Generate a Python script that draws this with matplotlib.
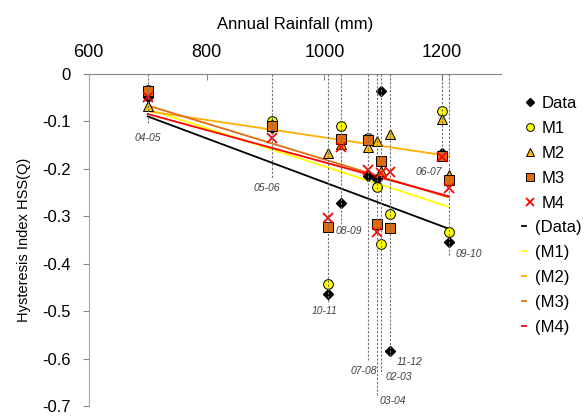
import numpy as np
import matplotlib.pyplot as plt
from matplotlib.ticker import FuncFormatter

plt.rcParams['font.family'] = ['Liberation Sans', 'DejaVu Sans']
plt.rcParams['axes.unicode_minus'] = False

# hydrological years and annual rainfall (mm)
years = ["04-05", "05-06", "10-11", "08-09", "07-08", "03-04", "02-03", "11-12", "06-07", "09-10"]
rainfall = [700, 911, 1007, 1028, 1074, 1089, 1096, 1112, 1199, 1211]

# hysteresis index HSS(Q): observed and four models
hss_data = [-0.050, -0.115, -0.465, -0.273, -0.216, -0.222, -0.037, -0.585, -0.168, -0.354]
hss_m1 = [-0.035, -0.100, -0.442, -0.111, -0.135, -0.238, -0.358, -0.295, -0.078, -0.333]
hss_m2 = [-0.067, -0.105, -0.166, -0.148, -0.155, -0.141, -0.204, -0.127, -0.095, -0.213]
hss_m3 = [-0.036, -0.110, -0.322, -0.138, -0.140, -0.316, -0.183, -0.324, -0.173, -0.224]
hss_m4 = [-0.048, -0.135, -0.304, -0.155, -0.203, -0.333, -0.210, -0.206, -0.175, -0.241]

# drop lines and year labels (layout only)
drop_end = [-0.105, -0.22, -0.485, -0.316, -0.604, -0.682, -0.632, -0.598, -0.173, -0.383]
label_x = [700, 902, 1001, 1041, 1067, 1116, 1127, 1144, 1177, 1245]
label_y = [-0.135, -0.24, -0.50, -0.332, -0.627, -0.69, -0.638, -0.608, -0.208, -0.379]

fig = plt.figure(figsize=(5.84, 4.19), dpi=100)
ax = fig.add_axes([0.152, 0.031, 0.706, 0.793])

x = np.array(rainfall)

# vertical dashed lines from 0 down to each year label
for xi, yend in zip(rainfall, drop_end):
    ax.plot([xi, xi], [0, yend], color='#707070', lw=0.8, ls=(0, (2, 1.5)), zorder=4)
for name, lx, ly in zip(years, label_x, label_y):
    ax.text(lx, ly, name, fontsize=7.5, style='italic', color='#404040',
            ha='center', va='center')

series = [
    ("Data", hss_data, dict(marker='D', ms=5, mfc='black', mec='black'), 'black'),
    ("M1", hss_m1, dict(marker='o', ms=7, mfc='#FFFF00', mec='black', mew=0.7), '#FFFF00'),
    ("M2", hss_m2, dict(marker='^', ms=7, mfc='#FFC000', mec='black', mew=0.7), '#FFB000'),
    ("M3", hss_m3, dict(marker='s', ms=7, mfc='#E36C09', mec='black', mew=0.7), '#E46C0A'),
    ("M4", hss_m4, dict(marker='x', ms=7, mec='#FF0000', mew=1.3), '#FF0000'),
]

marker_handles = []
line_handles = []
xfit = np.array([x.min(), x.max()])
for name, vals, style, lcol in series:
    h, = ax.plot(rainfall, vals, ls='none', label=name, zorder=3, **style)
    marker_handles.append(h)
for name, vals, style, lcol in series:
    k, b = np.polyfit(x, vals, 1)  # linear trend
    l, = ax.plot(xfit, k * xfit + b, color=lcol, lw=1.3, label="(" + name + ")", zorder=2)
    line_handles.append(l)

ax.set_xlim(600, 1300)
ax.set_ylim(-0.7, 0)
ax.set_xticks([600, 800, 1000, 1200])
ax.set_yticks(np.arange(-0.7, 0.01, 0.1))
ax.yaxis.set_major_formatter(FuncFormatter(lambda v, p: f"{v:.1f}" if abs(v) > 1e-9 else "0"))
ax.xaxis.tick_top()
ax.xaxis.set_label_position('top')
ax.tick_params(axis='x', direction='in', length=4, color='#868686', labelsize=13, pad=9)
ax.tick_params(axis='y', direction='out', length=4, color='#868686', labelsize=12, pad=9)
ax.set_xlabel("Annual Rainfall (mm)", fontsize=12, labelpad=11)
ax.set_ylabel("Hysteresis Index HSS(Q)", fontsize=10.5, labelpad=8)
for s in ['right', 'bottom']:
    ax.spines[s].set_visible(False)
ax.spines['left'].set_color('#A6A6A6')
ax.spines['top'].set_color('#868686')

# markers and trend lines get separate legends so their handles line up as in the original
leg1 = fig.legend(handles=marker_handles, loc='upper left',
                  bbox_to_anchor=(0.899, 0.771), frameon=False, fontsize=12,
                  handlelength=0.6, handletextpad=0.4, labelspacing=0.6,
                  borderaxespad=0, borderpad=0, markerscale=0.8)
leg2 = fig.legend(handles=line_handles, loc='upper left',
                  bbox_to_anchor=(0.894, 0.476), frameon=False, fontsize=12,
                  handlelength=0.25, handletextpad=0.5, labelspacing=0.6,
                  borderaxespad=0, borderpad=0)

fig.savefig("out.png", dpi=100)
